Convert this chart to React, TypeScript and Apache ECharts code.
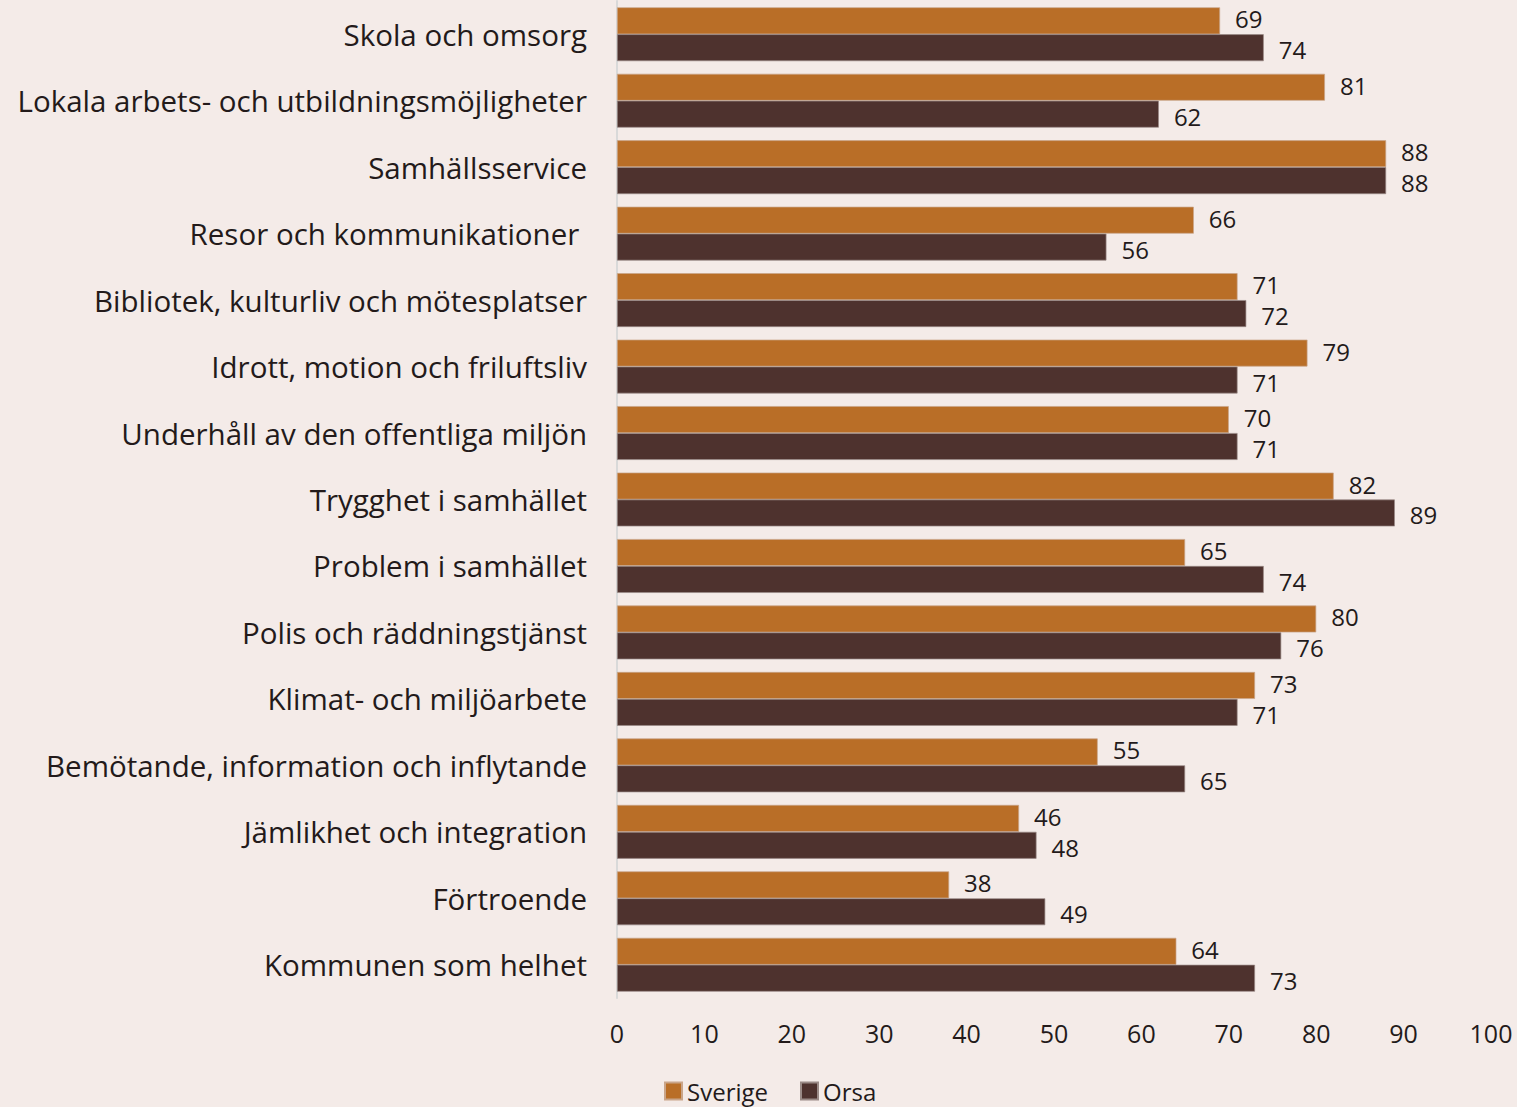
import React, { useEffect, useRef } from "react";
import * as echarts from "echarts";

const categories = [
  "Skola och omsorg",
  "Lokala arbets- och utbildningsmöjligheter",
  "Samhällsservice",
  "Resor och kommunikationer ",
  "Bibliotek, kulturliv och mötesplatser",
  "Idrott, motion och friluftsliv",
  "Underhåll av den offentliga miljön",
  "Trygghet i samhället",
  "Problem i samhället",
  "Polis och räddningstjänst",
  "Klimat- och miljöarbete",
  "Bemötande, information och inflytande",
  "Jämlikhet och integration",
  "Förtroende",
  "Kommunen som helhet",
];
const sverige = [69, 81, 88, 66, 71, 79, 70, 82, 65, 80, 73, 55, 46, 38, 64];
const orsa = [74, 62, 88, 56, 72, 71, 71, 89, 74, 76, 71, 65, 48, 49, 73];
const xTicks = [0, 10, 20, 30, 40, 50, 60, 70, 80, 90, 100];

const FONT = "Open Sans";
const TEXT = "#231a1a";

export default function App() {
  const ref = useRef<HTMLDivElement>(null);
  useEffect(() => {
    document.body.style.margin = "0";
    const chart = echarts.init(ref.current!, undefined, { renderer: "svg" });
    const labelCfg = (dy: number) => ({
      show: true,
      position: "right",
      distance: 15,
      offset: [0, dy],
      color: TEXT,
      fontSize: 24,
      lineHeight: 24,
      fontFamily: FONT,
    });
    chart.setOption({
      animation: false,
      backgroundColor: "#f4ebe8",
      textStyle: { fontFamily: FONT },
      grid: { left: 617, right: 26, top: 1, bottom: 109 },
      legend: {
        data: ["Sverige", "Orsa"],
        left: 659,
        top: 1074,
        itemWidth: 17,
        itemHeight: 17,
        itemGap: 32,
        icon: "rect",
        textStyle: { color: TEXT, fontSize: 24, lineHeight: 24, fontFamily: FONT },
      },
      xAxis: {
        type: "value",
        min: 0,
        max: 100,
        interval: 10,
        axisLine: { show: false },
        axisTick: { show: false },
        splitLine: { show: false },
        axisLabel: {
          color: TEXT,
          fontSize: 25,
          fontFamily: FONT,
          margin: 22,
          formatter: (v: number) => (xTicks.includes(v) ? String(v) : ""),
        },
      },
      yAxis: {
        type: "category",
        data: categories,
        inverse: true,
        axisLine: { show: true, lineStyle: { color: "#d9d9d9", width: 2 } },
        axisTick: { show: false },
        axisLabel: {
          color: TEXT,
          fontSize: 29.5,
          fontFamily: FONT,
          margin: 30,
        },
      },
      series: [
        {
          name: "Sverige",
          type: "bar",
          data: sverige,
          barGap: "0%",
          barCategoryGap: "19%",
          itemStyle: { color: "#b96e27", borderColor: "#c9a58a", borderWidth: 0.7 },
          label: labelCfg(-2),
        },
        {
          name: "Orsa",
          type: "bar",
          data: orsa,
          itemStyle: { color: "#4e322e", borderColor: "#9a8a86", borderWidth: 0.7 },
          label: labelCfg(2),
        },
      ],
    });
    return () => chart.dispose();
  }, []);
  return <div ref={ref} style={{ width: 1517, height: 1107 }} />;
}
